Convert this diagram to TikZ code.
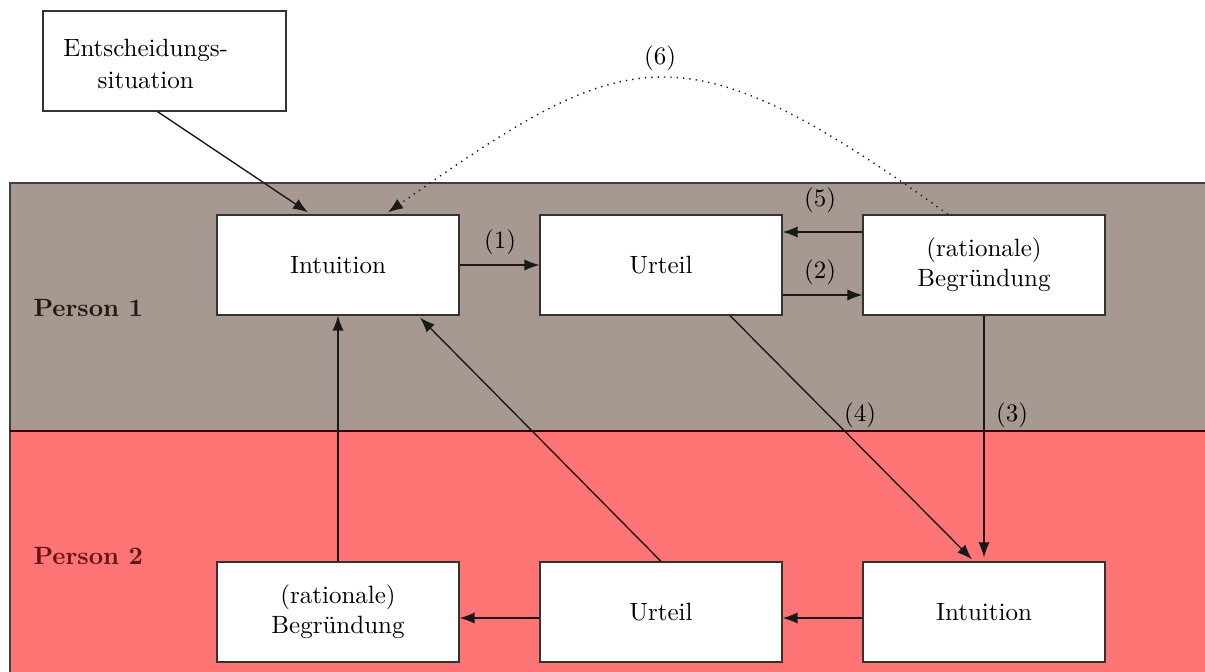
\documentclass[tikz,border=0pt]{standalone}
\usetikzlibrary{calc,arrows.meta}
\definecolor{bandbrown}{RGB}{167,153,145}
\definecolor{bandred}{RGB}{255,117,117}
\definecolor{labbrown}{RGB}{34,24,20}
\definecolor{labred}{RGB}{100,20,20}
\tikzset{
  box/.style={draw=black!80, fill=white, line width=0.5pt, minimum width=96.8pt, minimum height=40pt, inner sep=0pt, align=center},
  arr/.style={-{Latex[length=6pt,width=4.5pt]}, line width=0.55pt, black!90},
  lab/.style={inner sep=1pt},
  person/.style={font=\bfseries, anchor=west, inner sep=0pt}
}
\begin{document}
\begin{tikzpicture}[x=0.4pt,y=-0.4pt]
\useasboundingbox (0,0) rectangle (1205,672);
% bands
\fill[bandbrown] (10,183) rectangle (1230,431);
\fill[bandred] (10,431) rectangle (1230,700);
\draw[line width=0.6pt, black!75] (1230,183) -- (10,183) -- (10,700);
\draw[line width=0.6pt, black!75!red] (10,431) -- (1230,431);
% person labels
\node[person, text=labbrown] (p1) at (33,308) {Person 1};
\node[person, text=labred] (p2) at (33,556) {Person 2};
% boxes
\node[box, minimum width=97.2pt] (ent) at (164.5,61) {\raisebox{-2.2pt}[\height][\depth]{\begin{tabular}{@{}c@{}}Entscheidungs-\\[0.5pt]situation\end{tabular}}\hspace{15pt}};
\node[box] (i1) at (338,265) {Intuition};
\node[box] (u1) at (661,265) {Urteil};
\node[box] (b1) at (984,265) {(rationale)\\Begründung};
\node[box] (b2) at (338,612) {(rationale)\\Begründung};
\node[box] (u2) at (661,612) {Urteil};
\node[box] (i2) at (984,612) {Intuition};
% connectors
\draw[arr] ($(ent.south)+(-7,0)$) -- ($(i1.north)+(-30,-2)$);
\draw[arr] (i1.east) -- (u1.west);
\draw[arr] ($(b1.west)+(0,-33)$) -- ($(u1.east)+(0,-33)$);
\draw[arr] ($(u1.east)+(0,30)$) -- ($(b1.west)+(0,30)$);
\draw[arr] (b1.south) -- ($(i2.north)+(0,-4)$);
\draw[arr] ($(u1.south)+(69,0)$) -- ($(i2.north)+(-12,-2)$);
\draw[arr] ($(i2.west)+(0,6)$) -- ($(u2.east)+(0,6)$);
\draw[arr] ($(u2.west)+(0,6)$) -- ($(b2.east)+(0,6)$);
\draw[arr] (b2.north) -- (i1.south);
\draw[arr] (u2.north) -- ($(i1.south)+(82,2)$);
\draw[arr, dotted] ($(b1.north)+(-36,0)$) .. controls (680,22) and (628,44) .. ($(i1.north)+(50,-2)$);
% labels
\node[lab] (l1) at (500,242) {(1)};
\node[lab] (l2) at (820,272) {(2)};
\node[lab] (l5) at (820,200) {(5)};
\node[lab] (l6) at (660,58) {(6)};
\node[lab] (l4) at (860,415) {(4)};
\node[lab] (l3) at (1012,415) {(3)};
\end{tikzpicture}
\end{document}
